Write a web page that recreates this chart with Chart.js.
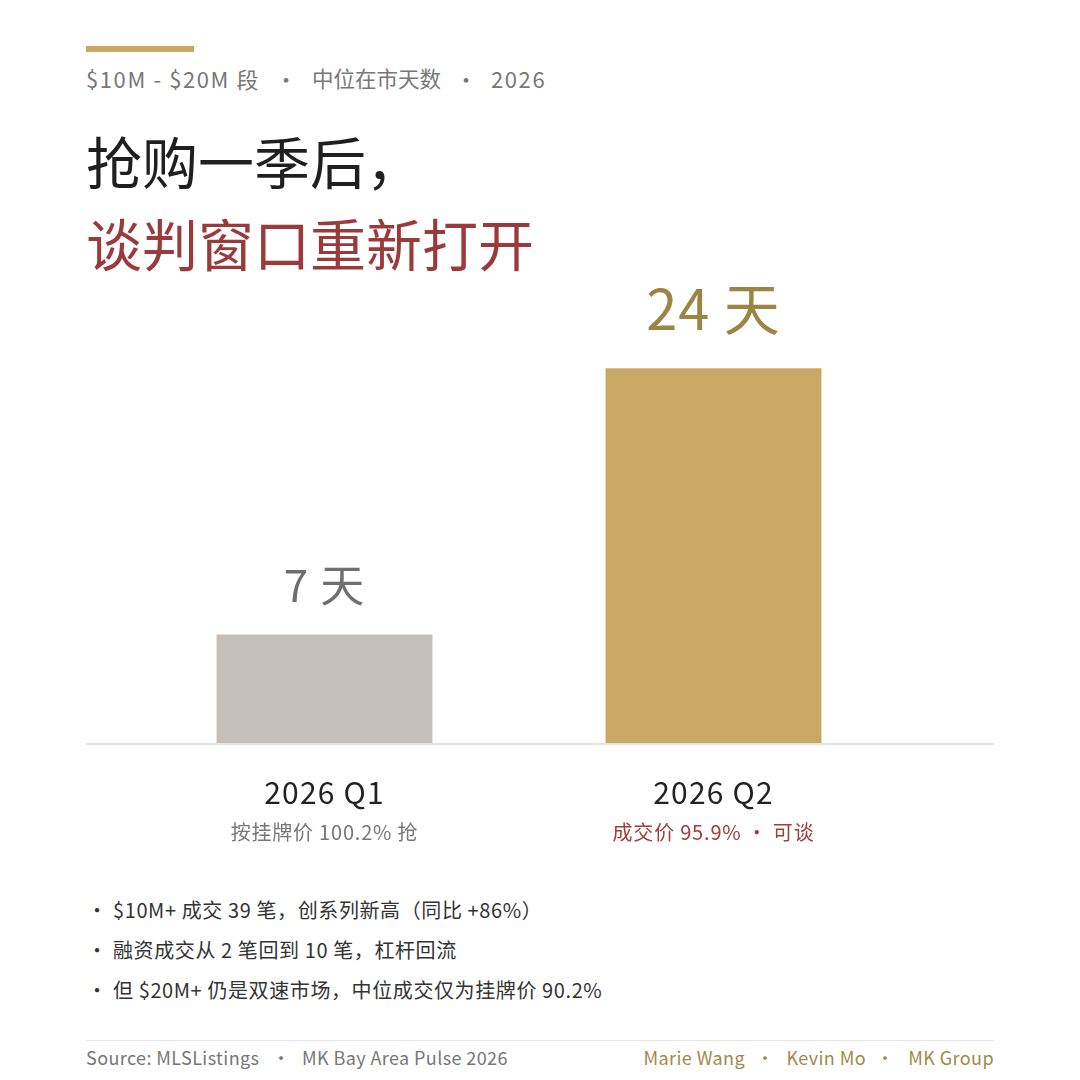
<!DOCTYPE html>
<html>
<head>
<meta charset="utf-8">
<script src="https://cdn.jsdelivr.net/npm/chart.js@4"></script>
<style>
  html, body { margin: 0; padding: 0; background: #fff; }
  body { width: 1080px; height: 1080px; position: relative; overflow: hidden;
         font-family: "Noto Sans CJK SC", "Noto Sans", sans-serif; }
  .abs { position: absolute; white-space: nowrap; }
  #rule { left: 86px; top: 46px; width: 108px; height: 6px; background: #c9a764; }
  .kick { top: 62px; font-size: 22px; color: #777; line-height: 32px; letter-spacing: 1.6px; }
  .kick.cjk { letter-spacing: 0; font-size: 21.5px; }
  #t1 { left: 86px; top: 122px; font-size: 56px; color: #1f1f1f; line-height: 76px; }
  #t2 { left: 86px; top: 204px; font-size: 56px; color: #9b3a3a; line-height: 76px; }
  #chartBox { left: 0; top: 280px; width: 1080px; height: 580px; }
  #notes { left: 86px; top: 892px; font-size: 20px; color: #333; letter-spacing: 0.6px; }
  #notes div { height: 40px; line-height: 36px; }
  #notes .b { display: inline-block; width: 27px; padding-left: 1px; box-sizing: border-box; }
  #frule { left: 86px; top: 1040px; width: 908px; height: 1px; background: #e6e6e6; }
  .foot { top: 1045px; font-size: 18px; line-height: 24px; letter-spacing: 0.4px; }
  .fl { color: #777; }
  .fr { color: #a08a4c; }
</style>
</head>
<body>
<div class="abs" id="rule"></div>
<div class="abs kick" style="left:86px">$10M - $20M 段</div>
<div class="abs kick" style="left:275px">·</div>
<div class="abs kick cjk" style="left:312px">中位在市天数</div>
<div class="abs kick" style="left:455px">·</div>
<div class="abs kick" style="left:491px">2026</div>
<div class="abs" id="t1">抢购一季后，</div>
<div class="abs" id="t2">谈判窗口重新打开</div>
<div class="abs" id="chartBox"><canvas id="chart" width="1080" height="580"></canvas></div>
<div class="abs" id="notes">
  <div><span class="b">·</span>$10M+ 成交 39 笔，创系列新高（同比 +86%）</div>
  <div><span class="b">·</span>融资成交从 2 笔回到 10 笔，杠杆回流</div>
  <div><span class="b">·</span>但 $20M+ 仍是双速市场，中位成交仅为挂牌价 90.2%</div>
</div>
<div class="abs" id="frule"></div>
<div class="abs foot fl" style="left:86px">Source: MLSListings</div>
<div class="abs foot fl" style="left:272px">·</div>
<div class="abs foot fl" style="left:302px">MK Bay Area Pulse 2026</div>
<div class="abs foot fr" style="right:335px">Marie Wang</div>
<div class="abs foot fr" style="left:756px">·</div>
<div class="abs foot fr" style="right:214px">Kevin Mo</div>
<div class="abs foot fr" style="left:876px">·</div>
<div class="abs foot fr" style="right:86px">MK Group</div>

<script>
// Chart data
const quarters = ['2026 Q1', '2026 Q2'];
const medianDays = [7, 24];
const dayUnit = '天';
const subLabels = ['按挂牌价 100.2% 抢', '成交价 95.9% · 可谈'];

const barColors = ['#c4bfb8', '#c9a764'];
const valueColors = ['#6f6f6f', '#9c8443'];
const valueSizes = [44, 56];
const subColors = ['#777777', '#a33c3c'];

const FONT = '"Noto Sans CJK SC", "Noto Sans", sans-serif';

// baseline across the full content width
const baselinePlugin = {
    id: 'baseline',
    afterDatasetsDraw(chart) {
        const ctx = chart.ctx;
        const y = chart.scales.y.getPixelForValue(0);
        ctx.save();
        ctx.strokeStyle = '#e4e4e4';
        ctx.lineWidth = 2;
        ctx.beginPath();
        ctx.moveTo(86, y);
        ctx.lineTo(994, y);
        ctx.stroke();
        ctx.restore();
    }
};

// value labels above bars and two-line category labels below
const labelPlugin = {
    id: 'labels',
    afterDraw(chart) {
        const ctx = chart.ctx;
        const meta = chart.getDatasetMeta(0);
        const base = chart.scales.y.getPixelForValue(0);
        ctx.save();
        ctx.textAlign = 'center';
        ctx.textBaseline = 'alphabetic';
        meta.data.forEach((bar, i) => {
            ctx.letterSpacing = '1px';
            ctx.fillStyle = valueColors[i];
            ctx.font = valueSizes[i] + 'px ' + FONT;
            ctx.fillText(medianDays[i] + ' ' + dayUnit, bar.x, bar.y - (i === 0 ? 32 : 38));

            const x = chart.scales.x.getPixelForValue(i);
            ctx.fillStyle = '#222';
            ctx.font = '30px ' + FONT;
            ctx.letterSpacing = '1.2px';
            ctx.fillText(quarters[i], x, base + 60);
            ctx.fillStyle = subColors[i];
            ctx.font = '20px ' + FONT;
            ctx.letterSpacing = '0.8px';
            ctx.fillText(subLabels[i], x, base + 96);
        });
        ctx.restore();
    }
};

new Chart(document.getElementById('chart'), {
    type: 'bar',
    data: {
        labels: quarters,
        datasets: [{
            data: medianDays,
            backgroundColor: barColors,
            borderWidth: 0,
            barPercentage: 0.555,
            categoryPercentage: 1
        }]
    },
    options: {
        responsive: false,
        animation: false,
        layout: { padding: { left: 130, right: 172, top: 10, bottom: 116 } },
        plugins: {
            legend: { display: false },
            tooltip: { enabled: false }
        },
        scales: {
            x: { display: false },
            y: { display: false, min: 0, max: 29 }
        }
    },
    plugins: [baselinePlugin, labelPlugin]
});
</script>
</body>
</html>
